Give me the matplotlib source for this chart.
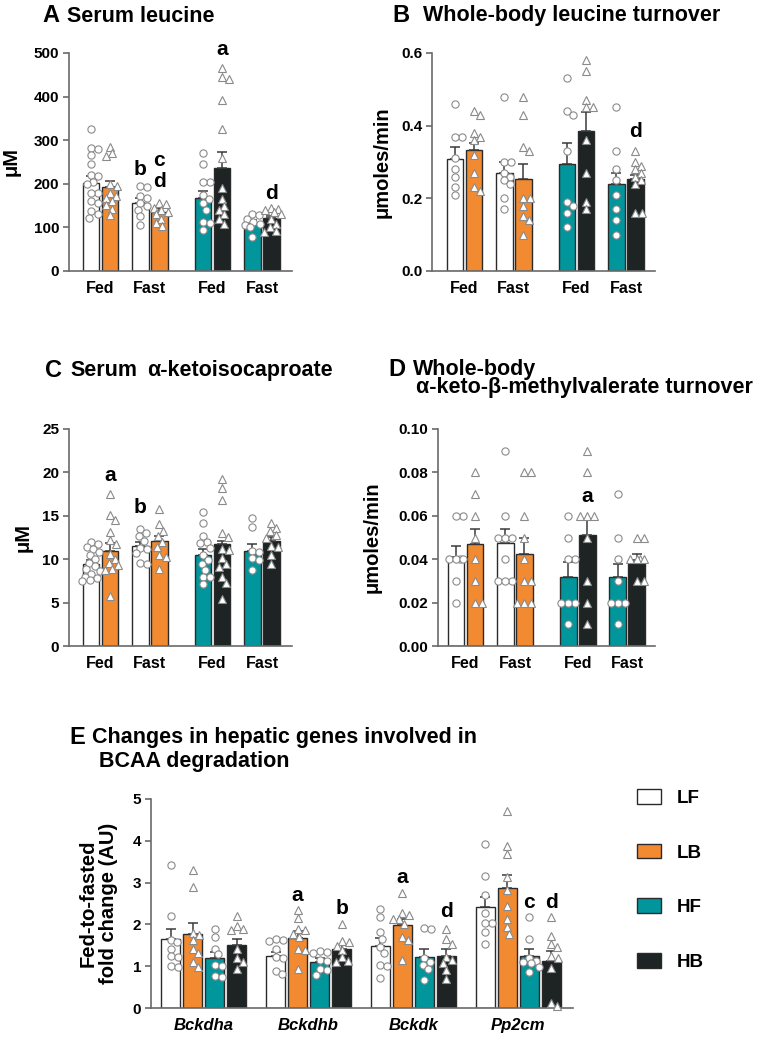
import numpy as np
import matplotlib.pyplot as plt
from matplotlib.patches import Patch

plt.rcParams['font.family'] = ['Liberation Sans', 'DejaVu Sans']
plt.rcParams['font.weight'] = 'bold'
plt.rcParams['axes.labelweight'] = 'bold'

# ---- data -------------------------------------------------------------
diets = ['LF', 'LB', 'HF', 'HB']
# bar order in panels A-D
bar_diet = ['LF', 'LB', 'LF', 'LB', 'HF', 'HB', 'HF', 'HB']
state_labels = ['Fed', 'Fast', 'Fed', 'Fast']

# A: serum leucine (uM)
leu_mean = [201, 193, 157, 136, 167, 237, 110, 121]
leu_sem = [17, 13, 10, 8, 17, 35, 6, 6]
leu_pts = [
    [325, 283, 280, 265, 245, 220, 218, 205, 200, 180, 180, 160, 157, 137, 130, 122],
    [285, 270, 263, 200, 195, 180, 172, 168, 160, 152, 143, 128],
    [195, 192, 172, 167, 155, 150, 140, 125, 105],
    [155, 153, 145, 140, 135, 130, 120, 110, 103],
    [270, 245, 205, 205, 174, 165, 155, 141, 113, 110, 95],
    [465, 445, 440, 393, 325, 260, 190, 165, 150, 140, 130, 119, 108],
    [130, 128, 120, 112, 108, 105, 100, 78],
    [145, 143, 140, 135, 130, 120, 108, 100, 92, 90],
]
leu_letters = [(2, 'b', 232), (3, 'c', 254), (3, 'd', 205), (5, 'a', 508), (7, 'd', 178)]

# B: whole-body leucine turnover (umoles/min)
turn_mean = [0.307, 0.333, 0.271, 0.252, 0.295, 0.385, 0.239, 0.252]
turn_sem = [0.033, 0.018, 0.029, 0.043, 0.056, 0.052, 0.030, 0.012]
turn_pts = [
    [0.46, 0.37, 0.37, 0.31, 0.28, 0.26, 0.23, 0.21],
    [0.44, 0.43, 0.38, 0.37, 0.36, 0.32, 0.27, 0.23, 0.22],
    [0.48, 0.30, 0.30, 0.27, 0.26, 0.25, 0.24, 0.20, 0.17],
    [0.48, 0.43, 0.34, 0.33, 0.20, 0.20, 0.18, 0.15, 0.14, 0.10],
    [0.53, 0.44, 0.43, 0.33, 0.19, 0.18, 0.16, 0.12],
    [0.58, 0.55, 0.47, 0.45, 0.45, 0.36, 0.27, 0.19, 0.17],
    [0.45, 0.33, 0.28, 0.25, 0.21, 0.17, 0.14, 0.10],
    [0.33, 0.30, 0.29, 0.28, 0.27, 0.26, 0.25, 0.24, 0.16, 0.16],
]
turn_letters = [(7, 'd', 0.384)]

# C: serum alpha-ketoisocaproate (uM)
kic_mean = [9.4, 11.0, 11.5, 12.1, 10.5, 11.7, 11.0, 12.1]
kic_sem = [0.55, 0.9, 0.5, 0.6, 0.7, 0.4, 0.8, 0.5]
kic_pts = [
    [12.0, 11.7, 11.4, 11.2, 10.8, 10.5, 10.0, 9.6, 9.2, 8.9, 8.6, 8.3, 8.0, 7.8, 7.6, 7.5],
    [17.5, 15.1, 14.5, 13.1, 12.2, 11.7, 10.6, 10.0, 9.6, 9.3, 8.9, 8.7, 5.8],
    [13.5, 13.0, 12.7, 12.1, 11.3, 11.2, 10.7, 9.6, 9.5],
    [15.8, 14.0, 13.3, 12.7, 12.0, 11.4, 10.5, 10.3, 8.9],
    [15.4, 14.2, 12.7, 12.0, 11.9, 11.3, 10.5, 9.9, 9.5, 8.8, 8.0, 7.9, 7.1],
    [19.2, 18.2, 16.8, 13.0, 12.6, 11.2, 11.1, 10.1, 9.4, 9.1, 8.0, 7.3, 5.4],
    [14.8, 13.7, 11.0, 10.8, 10.1, 9.9, 8.7],
    [14.2, 13.6, 13.2, 12.8, 12.5, 11.5, 11.4, 10.5, 9.5],
]
kic_letters = [(1, 'a', 19.7), (2, 'b', 15.9)]

# D: whole-body alpha-keto-beta-methylvalerate turnover (umoles/min)
kmv_mean = [0.041, 0.047, 0.0475, 0.0425, 0.032, 0.051, 0.032, 0.0395]
kmv_sem = [0.005, 0.007, 0.0065, 0.0075, 0.0065, 0.007, 0.006, 0.003]
kmv_pts = [
    [0.06, 0.06, 0.04, 0.04, 0.04, 0.04, 0.03, 0.02],
    [0.08, 0.07, 0.06, 0.05, 0.04, 0.03, 0.02, 0.02],
    [0.09, 0.06, 0.05, 0.05, 0.05, 0.04, 0.03, 0.03, 0.03],
    [0.08, 0.08, 0.06, 0.05, 0.04, 0.03, 0.03, 0.02, 0.02, 0.02],
    [0.06, 0.05, 0.04, 0.04, 0.02, 0.02, 0.02, 0.01],
    [0.09, 0.08, 0.06, 0.06, 0.06, 0.05, 0.03, 0.02, 0.01],
    [0.07, 0.05, 0.04, 0.03, 0.02, 0.02, 0.02, 0.01],
    [0.05, 0.05, 0.04, 0.04, 0.04, 0.04, 0.03, 0.03],
]
kmv_letters = [(5, 'a', 0.069)]

# E: fed-to-fasted fold change of hepatic genes (rows = genes, cols = LF, LB, HF, HB)
genes = ['Bckdha', 'Bckdhb', 'Bckdk', 'Pp2cm']
gene_mean = [[1.64, 1.78, 1.20, 1.50],
             [1.24, 1.68, 1.09, 1.41],
             [1.48, 1.98, 1.23, 1.24],
             [2.41, 2.86, 1.25, 1.12]]
gene_sem = [[0.25, 0.25, 0.14, 0.16],
            [0.10, 0.16, 0.10, 0.09],
            [0.20, 0.14, 0.17, 0.16],
            [0.24, 0.33, 0.17, 0.25]]
gene_pts = [
    [[3.42, 2.20, 1.62, 1.57, 1.42, 1.24, 1.22, 1.01, 0.97],
     [3.31, 2.90, 1.80, 1.75, 1.62, 1.42, 1.32, 1.11, 0.99],
     [1.88, 1.70, 1.42, 1.28, 1.03, 1.01, 0.76, 0.74],
     [2.20, 1.95, 1.88, 1.86, 1.40, 1.19, 1.11, 0.93]],
    [[1.65, 1.62, 1.60, 1.42, 1.23, 1.19, 0.89, 0.81],
     [2.35, 2.16, 1.90, 1.87, 1.78, 1.70, 1.42, 1.38, 0.93],
     [1.36, 1.34, 1.32, 1.16, 1.13, 0.93, 0.91, 0.79],
     [2.02, 1.60, 1.58, 1.48, 1.38, 1.21, 1.12, 1.11]],
    [[2.36, 2.18, 1.82, 1.66, 1.45, 1.31, 1.03, 1.01, 0.71],
     [2.75, 2.28, 2.22, 2.14, 2.12, 2.02, 1.70, 1.62, 1.16],
     [1.92, 1.88, 1.19, 1.11, 1.03, 0.93, 0.67],
     [1.90, 1.64, 1.54, 1.23, 1.15, 1.08, 0.91, 0.69]],
    [[3.92, 3.16, 2.71, 2.27, 2.03, 2.03, 1.82, 1.52],
     [4.72, 3.88, 3.69, 3.14, 2.82, 2.43, 2.14, 1.94, 1.78],
     [2.18, 1.64, 1.19, 1.13, 1.11, 1.08, 0.99, 0.87],
     [2.18, 1.72, 1.53, 1.45, 1.25, 1.19, 0.95, 0.12, 0.04]],
]
gene_letters = [(1, 1, 'a', 2.70), (1, 3, 'b', 2.37), (2, 1, 'a', 3.13),
                (2, 3, 'd', 2.31), (3, 2, 'c', 2.53), (3, 3, 'd', 2.53)]

# ---- style ------------------------------------------------------------
colors = {'LF': '#ffffff', 'LB': '#f28a32', 'HF': '#00969c', 'HB': '#1e2323'}
markers = {'LF': 'o', 'LB': '^', 'HF': 'o', 'HB': '^'}
axis_col = '#6a6a6a'
W, H = 762, 1040

fig = plt.figure(figsize=(W / 100, H / 100), dpi=100)


def px_axes(left, right, top, bottom):
    return fig.add_axes([left / W, 1 - bottom / H, (right - left) / W, (bottom - top) / H])


def swarm(ax, vals, d=6.8, maxoff=9.5):
    # simple beeswarm offsets (returned in x data units)
    pos = ax.get_position()
    x0, x1 = ax.get_xlim()
    y0, y1 = ax.get_ylim()
    xs = pos.width * W / (x1 - x0)
    ys = pos.height * H / (y1 - y0)
    placed = []
    offs = np.zeros(len(vals))
    cands = [0.0]
    for k in np.arange(0.5, maxoff + 0.01, 0.5):
        cands += [k, -k]
    for i in np.argsort(vals)[::-1]:
        y = vals[i] * ys
        best, bestd = 0.0, -1
        for c in cands:
            dmin = min([np.hypot(c - px, y - py) for px, py in placed] + [99])
            if dmin >= d:
                best = c
                break
            if dmin > bestd:
                best, bestd = c, dmin
        placed.append((best, y))
        offs[i] = best / xs
    return offs


def style_axes(ax, ylim, yticks, fmt):
    ax.set_ylim(*ylim)
    ax.set_yticks(yticks)
    ax.set_yticklabels([fmt.format(t) for t in yticks])
    for s in ['top', 'right']:
        ax.spines[s].set_visible(False)
    for s in ['left', 'bottom']:
        ax.spines[s].set_color(axis_col)
        ax.spines[s].set_linewidth(1.2)
    ax.tick_params(axis='y', length=4, width=1.2, color=axis_col, labelsize=11, pad=3)
    ax.tick_params(axis='x', length=0, labelsize=11.5, pad=7)


def draw_bars(ax, xpos, diets_, means, sems, pts, width):
    for x, dg, m, s, p in zip(xpos, diets_, means, sems, pts):
        ax.bar(x, m, width=width, color=colors[dg], edgecolor='#2a2a2a', linewidth=1.0, zorder=2)
        ax.errorbar(x, m, yerr=[[0], [s]], fmt='none', ecolor='#3a3a3a', elinewidth=1.1,
                    capsize=3.5, capthick=1.1, zorder=3)
    for x, dg, p in zip(xpos, diets_, pts):
        p = np.array(p, dtype=float)
        off = swarm(ax, p)
        ax.plot(x + off, p, markers[dg], ls='none', ms=5.2 if markers[dg] == 'o' else 5.6,
                mfc='white', mec='#8a8a8a', mew=0.8, zorder=4, clip_on=False)


bar_x = [0, 1, 2.6, 3.6, 5.9, 6.9, 8.5, 9.5]
pair_x = [0.5, 3.1, 6.4, 9.0]


def panel(ax, xlim, means, sems, pts, letters, ylim, yticks, fmt, ylabel, lab_x):
    ax.set_xlim(*xlim)
    style_axes(ax, ylim, yticks, fmt)
    draw_bars(ax, bar_x, bar_diet, means, sems, pts, 0.88)
    ax.set_xticks(pair_x)
    ax.set_xticklabels(state_labels)
    for i, t, y in letters:
        ax.text(bar_x[i], y, t, ha='center', va='center', fontsize=15, weight='bold', clip_on=False)
    ax.set_ylabel(ylabel, fontsize=14.5)
    ax.yaxis.set_label_coords(lab_x, 0.5)


axA = px_axes(69, 292, 53, 271)
panel(axA, (-1.16, 10.58), leu_mean, leu_sem, leu_pts, leu_letters,
      (0, 500), [0, 100, 200, 300, 400, 500], '{:.0f}', 'μM', -0.215)

axB = px_axes(432, 655, 53, 271)
panel(axB, (-1.21, 10.53), turn_mean, turn_sem, turn_pts, turn_letters,
      (0, 0.6), [0, 0.2, 0.4, 0.6], '{:.1f}', 'μmoles/min', -0.18)

axC = px_axes(69, 292, 429, 646)
panel(axC, (-1.16, 10.58), kic_mean, kic_sem, kic_pts, kic_letters,
      (0, 25), [0, 5, 10, 15, 20, 25], '{:.0f}', 'μM', -0.165)

axD = px_axes(438, 655, 429, 646)
panel(axD, (-0.95, 10.47), kmv_mean, kmv_sem, kmv_pts, kmv_letters,
      (0, 0.10), [0, 0.02, 0.04, 0.06, 0.08, 0.10], '{:.2f}', 'μmoles/min', -0.262)

# panel E
axE = px_axes(151, 573, 799, 1008)
axE.set_xlim(-0.9, 18.3)
style_axes(axE, (0, 5), [0, 1, 2, 3, 4, 5], '{:.0f}')
gstep = 4.77
for g in range(len(genes)):
    xs_ = [g * gstep + j for j in range(4)]
    draw_bars(axE, xs_, diets, gene_mean[g], gene_sem[g], gene_pts[g], 0.86)
axE.set_xticks([g * gstep + 1.5 for g in range(len(genes))])
axE.set_xticklabels(genes, style='italic', fontsize=12)
for g, j, t, y in gene_letters:
    axE.text(g * gstep + j, y, t, ha='center', va='center', fontsize=15, weight='bold')
axE.set_ylabel('Fed-to-fasted\nfold change (AU)', fontsize=14.5, linespacing=1.1)
axE.yaxis.set_label_coords(-0.078, 0.5)

# titles
def title(x, y, s, size=15.5):
    fig.text(x / W, 1 - y / H, s, fontsize=size, weight='bold', va='center', ha='left')

title(42, 16, 'A', 17)
title(67, 16, 'Serum leucine')
title(392, 16, 'B', 17)
title(423, 16, 'Whole-body leucine turnover')
title(45, 370, 'C', 17)
title(70, 370, 'Serum')
title(147, 370, 'α-ketoisocaproate')
title(388, 369, 'D', 17)
title(413, 369, 'Whole-body')
title(416, 388, 'α-keto-β-methylvalerate turnover')
title(69, 737, 'E', 17)
title(92, 737, 'Changes in hepatic genes involved in')
title(99, 762, 'BCAA degradation')

# legend
handles = [Patch(facecolor=colors[d], edgecolor='#2a2a2a', linewidth=1.0) for d in diets]
fig.legend(handles, diets, loc='upper left', bbox_to_anchor=(637 / W, 1 - 789 / H),
           frameon=False, fontsize=13.5, handlelength=1.3, handleheight=0.85,
           labelspacing=1.95, handletextpad=0.8, borderpad=0, borderaxespad=0)

plt.savefig('out.png', dpi=100)
